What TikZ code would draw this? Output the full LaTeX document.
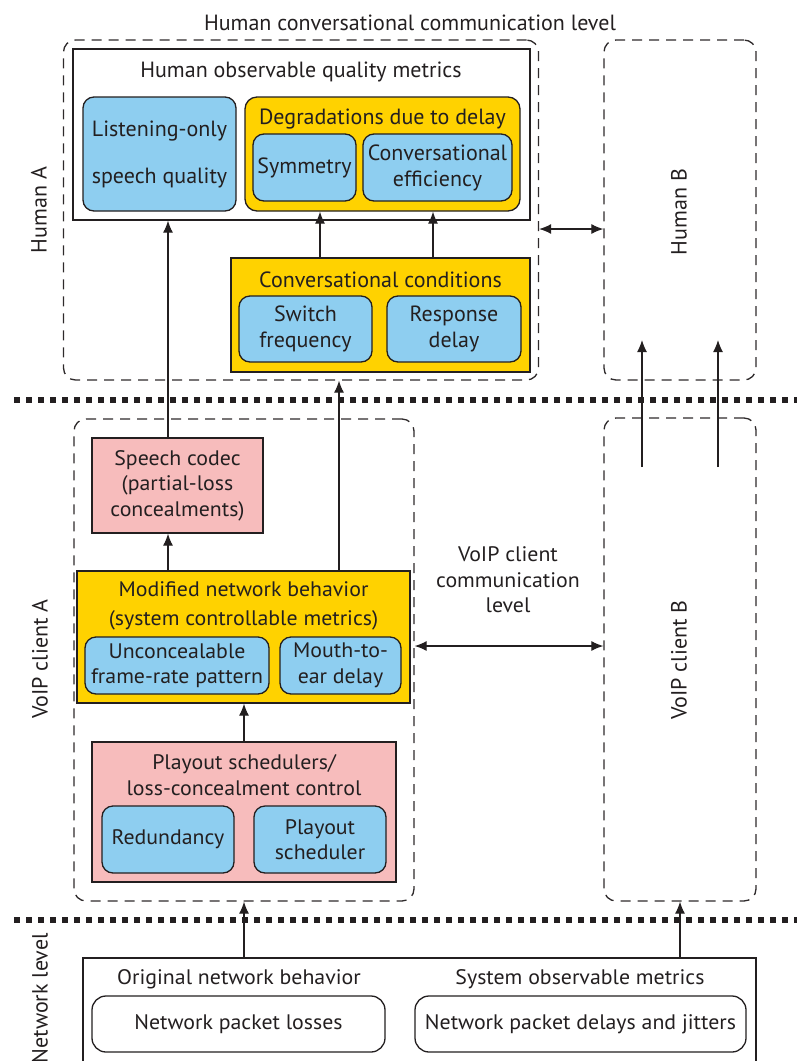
\documentclass[tikz,border=0pt]{standalone}
\usepackage{fontspec}
\setmainfont{PT Sans}
\newfontfamily\lowfont[FakeStretch=1.04]{PT Sans}
\usetikzlibrary{arrows.meta}
\definecolor{skyblue}{RGB}{142,206,240}
\definecolor{gold}{RGB}{255,210,0}
\definecolor{rose}{RGB}{247,188,188}
\definecolor{ink}{RGB}{35,31,32}

\begin{document}
\begin{tikzpicture}[x=1pt,y=-1pt,
  every node/.style={font=\fontsize{22}{26}\selectfont,text=ink,inner sep=0pt,align=center},
  area/.style={draw=ink!95,dash pattern=on 10pt off 7pt,rounded corners=12pt,line width=1.3pt},
  plain/.style={draw=ink,line width=1.3pt,fill=white},
  bluebox/.style={draw=ink,line width=1.3pt,fill=skyblue,rounded corners=11pt},
  goldbox/.style={draw=ink,line width=1.3pt,fill=gold},
  rosebox/.style={draw=ink,line width=1.3pt,fill=rose},
  whitebox/.style={draw=ink,line width=1.3pt,rounded corners=14pt},
  arr/.style={draw=ink,line width=1.2pt,-{Latex[length=12pt,width=10pt]}},
  both/.style={draw=ink,line width=1.2pt,{Latex[length=12pt,width=10pt]}-{Latex[length=12pt,width=10pt]}},
  level/.style={draw=ink,line width=6pt,dash pattern=on 6pt off 6pt},
  side/.style={rotate=90},
  lower/.style={font=\lowfont\fontsize{21}{25.5}\selectfont}]
\useasboundingbox (0,0) rectangle (797,1061);
\node[area,minimum width=475,minimum height=340] (humanA) at (301,210) {};
\node[area,minimum width=152,minimum height=340] (humanB) at (680,210) {};
\node[area,minimum width=340,minimum height=482] (clientA) at (244,660) {};
\node[area,minimum width=152,minimum height=483] (clientB) at (680,659.5) {};
\node (toplevel) at (410,23) {Human conversational communication level};
\node[plain,minimum width=457,minimum height=171] (observable) at (301.5,134.5) {};
\node (obstitle) at (301,72) {Human observable quality metrics};
\node[bluebox,minimum width=153,minimum height=114] (listening) at (159.5,154) {Listening-only\\[21pt]speech quality};
\node[goldbox,rounded corners=12pt,minimum width=275,minimum height=114] (degradation) at (382.5,154) {};
\node (degtitle) at (382.5,119) {Degradations due to delay};
\node[bluebox,minimum width=103,minimum height=67] (symmetry) at (304.5,167.5) {Symmetry};
\node[bluebox,minimum width=149,minimum height=67] (efficiency) at (437.5,167.5) {Conversational\\efficiency};
\node[goldbox,minimum width=299,minimum height=114] (conditions) at (380.5,315) {};
\node (condtitle) at (380.5,280) {Conversational conditions};
\node[bluebox,minimum width=133,minimum height=66] (switch) at (305.5,329) {Switch\\frequency};
\node[bluebox,minimum width=134,minimum height=66] (response) at (454,329) {Response\\delay};
\node[rosebox,lower,minimum width=171,minimum height=95] (codec) at (177.5,485.5) {Speech codec\\(partial-loss\\concealments)};
\node[goldbox,minimum width=333,minimum height=132] (modified) at (243.5,637) {};
\node[lower] (modtitle) at (243.5,606) {Modified network behavior\\[3pt](system controllable metrics)};
\node[bluebox,lower,minimum width=184,minimum height=57] (pattern) at (177,665.5) {Unconcealable\\frame-rate pattern};
\node[bluebox,lower,minimum width=121,minimum height=57] (mouth) at (340.5,665.5) {Mouth-to-\\ear delay};
\node[rosebox,minimum width=304,minimum height=140] (playout) at (244,812) {};
\node[lower] (playtitle) at (244,775) {Playout schedulers/\\loss-concealment control};
\node[bluebox,lower,minimum width=132,minimum height=67] (redundancy) at (168,839.5) {Redundancy};
\node[bluebox,lower,minimum width=132,minimum height=67] (scheduler) at (320,839.5) {Playout\\scheduler};
\node[lower] (clientlevel) at (508,580) {VoIP client\\communication\\level};
\node[plain,minimum width=673,minimum height=130] (network) at (419.5,1023) {};
\node[lower] (original) at (239,979) {Original network behavior};
\node[lower] (observed) at (580,979) {System observable metrics};
\node[whitebox,lower,minimum width=293,minimum height=56] (losses) at (238.5,1024) {Network packet losses};
\node[whitebox,lower,minimum width=331,minimum height=56] (jitters) at (580.5,1024) {Network packet delays and jitters};
\node[side] (humanAlabel) at (39,210) {Human A};
\node[side] (humanBlabel) at (679,212) {Human B};
\node[side] (clientAlabel) at (40,659) {VoIP client A};
\node[side] (clientBlabel) at (679,660) {VoIP client B};
\node[side,anchor=east] (netlabel) at (40,933) {Network level};
\coordinate (levelL1) at (14,400);
\coordinate (levelR1) at (797,400);
\coordinate (levelL2) at (14,920);
\coordinate (levelR2) at (797,920);
\draw[level] (levelL1) -- (levelR1);
\draw[level] (levelL2) -- (levelR2);
\coordinate (upL) at (168,0);
\coordinate (upM) at (339,0);
\coordinate (degL) at (320,0);
\coordinate (degR) at (433,0);
\draw[arr] (conditions.north -| degL) -- (degradation.south -| degL);
\draw[arr] (conditions.north -| degR) -- (degradation.south -| degR);
\draw[arr] (codec.north -| upL) -- (observable.south -| upL);
\draw[arr] (modified.north -| upL) -- (codec.south -| upL);
\draw[arr] (modified.north -| upM) -- (humanA.south -| upM);
\draw[arr] (playout.north) -- (modified.south -| playout.north);
\draw[arr] (network.north -| playout.north) -- (clientA.south -| playout.north);
\draw[arr] (network.north -| clientB.south) -- (clientB.south);
\coordinate (feedL) at (642,467);
\coordinate (feedR) at (718,467);
\coordinate (tipL) at (642,340);
\coordinate (tipR) at (718,340);
\draw[arr] (feedL) -- (tipL);
\draw[arr] (feedR) -- (tipR);
\coordinate (humanLink) at (0,229);
\coordinate (clientLink) at (0,646);
\draw[both] (humanA.east |- humanLink) -- (humanB.west |- humanLink);
\draw[both] (clientA.east |- clientLink) -- (clientB.west |- clientLink);
\end{tikzpicture}
\end{document}
